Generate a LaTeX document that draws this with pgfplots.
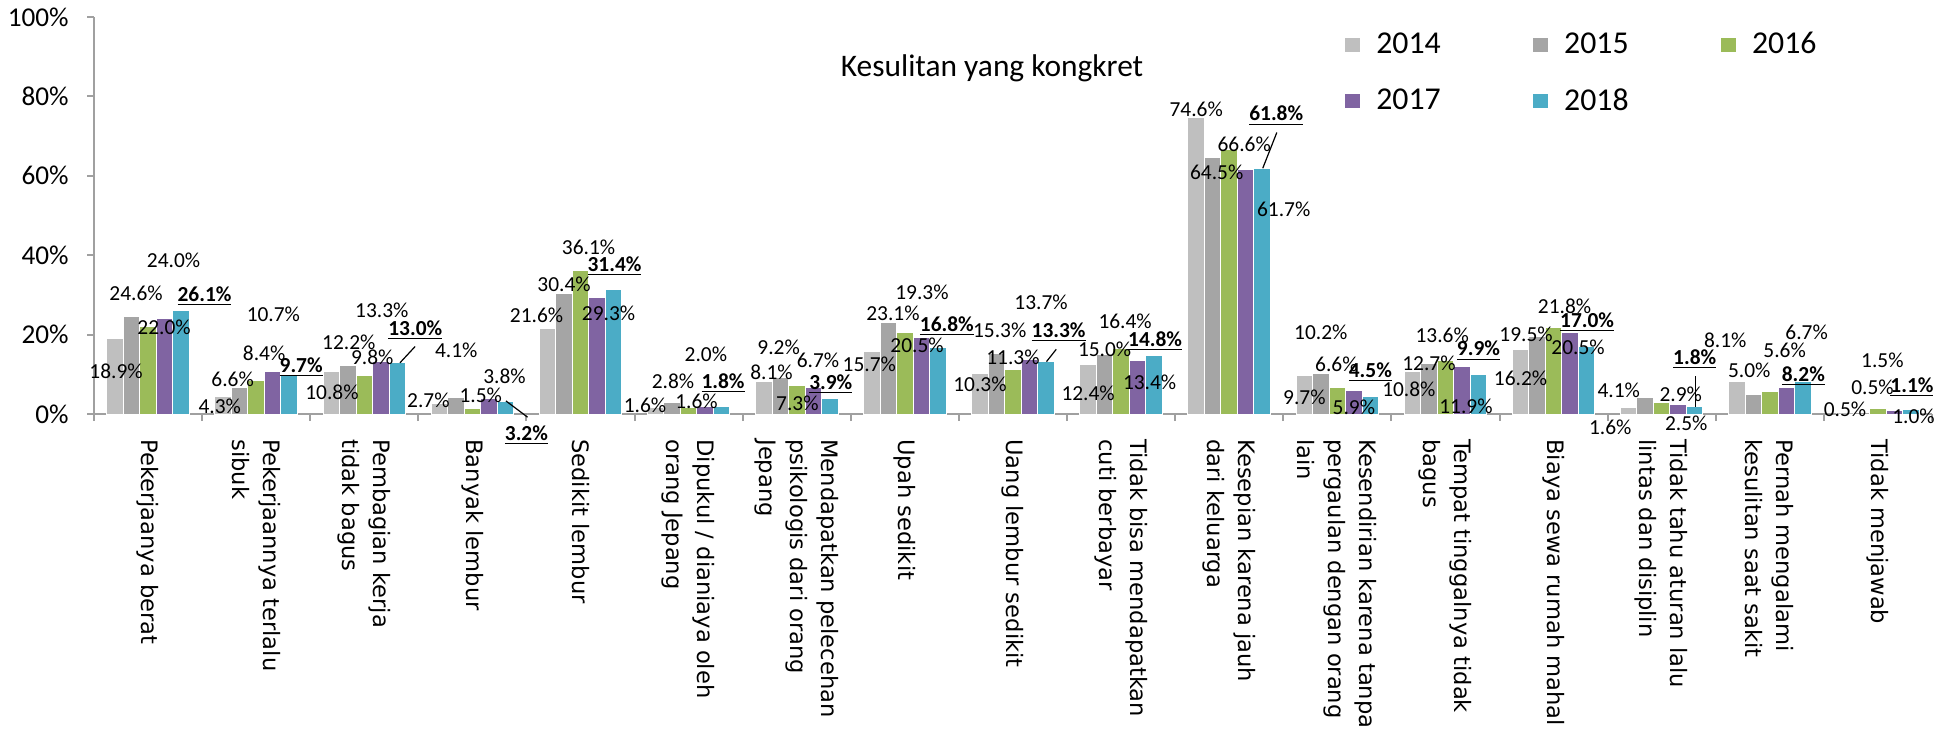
\documentclass[border=0pt]{standalone}
\usepackage{pgfplots}
\pgfplotsset{compat=1.18}
\usepackage{pgfplotstable}
\usepackage{fontspec}
\setmainfont{Carlito}
\newfontfamily\dejavu{DejaVu Sans}

\definecolor{c14}{HTML}{BFBFBF}
\definecolor{c15}{HTML}{A5A5A5}
\definecolor{c16}{HTML}{9BBB59}
\definecolor{c17}{HTML}{8064A2}
\definecolor{c18}{HTML}{4BACC6}
\definecolor{axgray}{HTML}{A0A0A0}

% x = category, y = value (%), dx/dy = label offset from bar top (px, dy down)
\pgfplotstableread{
x y dx dy
0 18.9 1 32
1 4.3 -3.4 9
2 10.8 0.7 21
3 2.7 -11 -2.6
4 21.6 -11 -12.5
5 1.6 -10.6 -2
6 8.1 7.7 -9.5
7 15.7 -2.6 12.3
8 10.3 0 11.6
9 12.4 0 29
10 74.6 0 -8.8
11 9.7 0 22
12 10.8 -3.6 18
13 16.2 0 28.3
14 1.6 -18.5 19.4
15 8.1 -11.6 -41.8
16 0.5 0 -2.3
}\tA
\pgfplotstableread{
x y dx dy
0 24.6 4.5 -23
1 6.6 -7 -9
2 12.2 1 -23
3 4.1 0.4 -47.7
4 30.4 0 -9
5 2.8 0.9 -22
6 9.2 -1.6 -30
7 23.1 4.6 -8.6
8 15.3 3.2 -23.3
9 15.0 0 -5
10 64.5 4 14.4
11 10.2 0 -41
12 12.7 0 0
13 19.5 -11 -2
14 4.1 -26.5 -7
15 5.0 -4 -23.4
16 0.5 11 -24.7
}\tB
\pgfplotstableread{
x y dx dy
0 22.0 16 1
1 8.4 8 -27
2 9.8 8 -18
3 1.5 8.4 -12.3
4 36.1 8 -23.4
5 1.6 7.8 -6
6 7.3 0.6 18.7
7 20.5 12.2 13
8 11.3 0 -11.8
9 16.4 4 -27.6
10 66.6 15 -5.6
11 6.6 -1 -24
12 13.6 -3.3 -24.3
13 21.8 11 -20.8
14 2.9 19 -8.5
15 5.6 14.8 -41
16 1.5 4.4 -47.7
}\tC
\pgfplotstableread{
x y dx dy
0 24.0 9 -58
1 10.7 0.7 -57.5
2 13.3 1 -50.5
3 3.8 15.6 -22.6
4 29.3 11.5 15.6
5 2.0 0.7 -52
6 6.7 4.7 -26.7
7 19.3 0.6 -45
8 13.7 11.6 -57.6
9 13.4 12 21.5
10 61.7 38 40
11 5.9 0 16.7
12 11.9 4 40
13 20.5 8 14.4
14 2.5 8 19
15 6.7 20.3 -55
16 1.0 19 6.3
}\tD
\pgfplotstableread{
x y dx dy
0 26.1 23.5 -14
1 9.7 12 -8.5
2 13.0 18 -32
3 3.2 21 33.7
4 31.4 1 -23.6
5 1.8 1.4 -23.6
6 3.9 1 -14.8
7 16.8 9 -21.6
8 13.3 12.6 -29
9 14.8 1 -14.5
10 61.8 14 -53
11 4.5 0 -23.8
12 9.9 0 -24
13 17.0 0.5 -24.2
14 1.8 0 -48
15 8.2 0.5 -5.7
16 1.1 1 -22.3
}\tE

\begin{document}
\begin{tikzpicture}
\path[use as bounding box] (0,0) rectangle (976bp,366bp);
\begin{axis}[
  at={(47bp,159bp)}, anchor=south west,
  scale only axis, width=919bp, height=198.5bp,
  xmin=-0.5, xmax=16.5, ymin=0, ymax=100,
  clip=false,
  axis x line*=bottom, axis y line*=left,
  axis line style={draw=axgray, line width=1bp},
  tick style={draw=axgray, line width=1bp},
  tick align=outside, major tick length=3.5bp,
  /pgf/number format/assume math mode=true,
  ytick={0,20,...,100},
  yticklabel={\pgfmathprintnumber{\tick}\%},
  yticklabel style={font=\fontsize{13.6bp}{16bp}\selectfont, inner sep=0pt},
  yticklabel shift=9bp,
  xtick={-0.5,0.5,...,16.5},
  xticklabel=\empty,
  extra x ticks={0,1,...,16},
  extra x tick labels={
    Pekerjaanya berat,
    {Pekerjaannya terlalu\\sibuk},
    {Pembagian kerja\\tidak bagus},
    Banyak lembur,
    Sedikit lembur,
    {Dipukul / dianiaya oleh\\orang Jepang},
    {Mendapatkan pelecehan\\psikologis dari orang\\Jepang},
    Upah sedikit,
    Uang lembur sedikit,
    {Tidak bisa mendapatkan\\cuti berbayar},
    {Kesepian karena jauh\\dari  keluarga},
    {Kesendirian karena tanpa\\pergaulan dengan orang\\lain},
    {Tempat tinggalnya tidak\\bagus},
    Biaya sewa rumah mahal,
    {Tidak tahu aturan lalu\\lintas dan disiplin},
    {Pernah mengalami\\kesulitan saat sakit},
    Tidak menjawab},
  extra x tick style={major tick length=0pt},
  xticklabel style={rotate=-90, anchor=west, align=left, inner sep=0pt,
    font=\dejavu\fontsize{11.3bp}{15.5bp}\selectfont},
  xticklabel shift=12.5bp,
  title={Kesulitan yang kongkret},
  every axis title/.style={at={(axis description cs:0.4886,0.8715)}, anchor=center,
    inner sep=0pt, font=\fontsize{15.7bp}{19bp}\selectfont},
  ybar=0pt, bar width=8.25bp,
  legend image code/.code={\draw[#1,draw=none] (0bp,-3.6bp) rectangle (7.5bp,3.6bp);},
  legend columns=3,
  legend style={draw=none, fill=none, inner sep=0pt,
    at={(axis description cs:0.6806,0.972)}, anchor=north west,
    font=\fontsize{15.9bp}{19bp}\selectfont, row sep=11.8bp,
    /tikz/every odd column/.append style={column sep=6.0bp},
    /tikz/every even column/.append style={column sep=44.2bp}},
  visualization depends on={\thisrow{dx} \as \ldx},
  visualization depends on={\thisrow{dy} \as \ldy},
  nodes near coords={\pgfmathprintnumber[fixed,fixed zerofill,precision=1]{\pgfplotspointmeta}\%},
  every node near coord/.append style={anchor=center, inner sep=0pt,
    xshift={0.5*(\ldx)*1bp}, yshift={-0.5*(\ldy)*1bp},
    font=\fontsize{10.7bp}{13bp}\selectfont, text=black},
]
\addplot[fill=c14, draw=white, line width=0.5bp] table[x=x,y=y]{\tA};
\addlegendentry{2014}
\addplot[fill=c15, draw=white, line width=0.5bp] table[x=x,y=y]{\tB};
\addlegendentry{2015}
\addplot[fill=c16, draw=white, line width=0.5bp] table[x=x,y=y]{\tC};
\addlegendentry{2016}
\addplot[fill=c17, draw=white, line width=0.5bp] table[x=x,y=y]{\tD};
\addlegendentry{2017}
\addplot[fill=c18, draw=white, line width=0.5bp,
  nodes near coords={\underline{\textbf{\pgfmathprintnumber[fixed,fixed zerofill,precision=1]{\pgfplotspointmeta}\%}}}]
  table[x=x,y=y]{\tE};
\addlegendentry{2018}
\draw[black, line width=0.6bp] (axis cs:2.33,12.9) -- (axis cs:2.47,17.0);
\draw[black, line width=0.6bp] (axis cs:3.31,3.3) -- (axis cs:3.51,-0.8);
\draw[black, line width=0.6bp] (axis cs:8.31,13.2) -- (axis cs:8.40,16.3);
\draw[black, line width=0.6bp] (axis cs:10.31,61.9) -- (axis cs:10.44,70.9);
\draw[black, line width=0.6bp] (axis cs:14.31,1.8) -- (axis cs:14.31,9.6);
\end{axis}
\end{tikzpicture}
\end{document}
